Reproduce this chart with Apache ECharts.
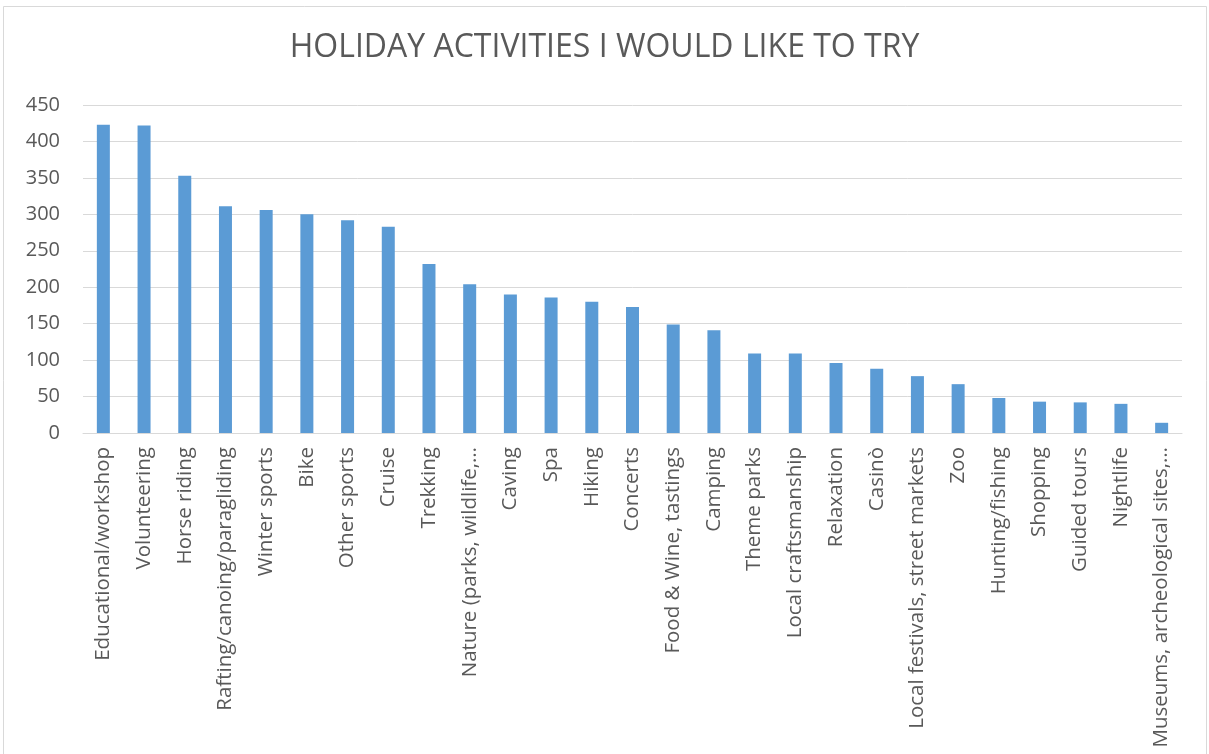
<!DOCTYPE html>
<html>
<head>
<meta charset="utf-8">
<script src="https://cdn.jsdelivr.net/npm/echarts@6/dist/echarts.min.js"></script>
<style>html,body{margin:0;padding:0;background:#fff}#c{width:1209px;height:754px}</style>
</head>
<body>
<div id="c"></div>
<script>
const titleText = "HOLIDAY ACTIVITIES I WOULD LIKE TO TRY";
const categories = [
  "Educational/workshop","Volunteering","Horse riding","Rafting/canoing/paragliding","Winter sports",
  "Bike","Other sports","Cruise","Trekking","Nature (parks, wildlife,…",
  "Caving","Spa","Hiking","Concerts","Food & Wine, tastings",
  "Camping","Theme parks","Local craftsmanship","Relaxation","Casinò",
  "Local festivals, street markets","Zoo","Hunting/fishing","Shopping","Guided tours",
  "Nightlife","Museums, archeological sites,…"
];
const values = [423,422,353,311,306,300,292,283,232,204,190,186,180,173,149,141,109,109,96,88,78,67,48,43,42,40,14];
const yMin = 0, yMax = 450, yStep = 50;

const chart = echarts.init(document.getElementById('c'), null, {renderer:'canvas'});
chart.setOption({
  animation:false,
  backgroundColor:'#fff',
  graphic:[{type:'rect',shape:{x:3.5,y:6.5,width:1203,height:760},style:{fill:'none',stroke:'#d9d9d9',lineWidth:1},silent:true}],
  title:{text:titleText,left:'center',top:27,textStyle:{fontFamily:'Open Sans',fontWeight:'normal',fontSize:32,color:'#595959'}},
  grid:{left:83,right:27,top:105,bottom:321,containLabel:false,outerBoundsMode:'none'},
  xAxis:{type:'category',data:categories,
    axisLine:{lineStyle:{color:'#d9d9d9',width:1}},
    axisTick:{show:false},
    axisLabel:{rotate:90,interval:0,margin:14,color:'#595959',fontFamily:'Open Sans',fontSize:20.5}
  },
  yAxis:{type:'value',min:yMin,max:yMax,interval:yStep,
    axisLine:{show:false},axisTick:{show:false},
    splitLine:{lineStyle:{color:'#d9d9d9',width:1}},
    axisLabel:{margin:23,color:'#595959',fontFamily:'Open Sans',fontSize:20}
  },
  series:[{type:'bar',data:values,barWidth:13,itemStyle:{color:'#5B9BD5'}}]
});
</script>
</body>
</html>
